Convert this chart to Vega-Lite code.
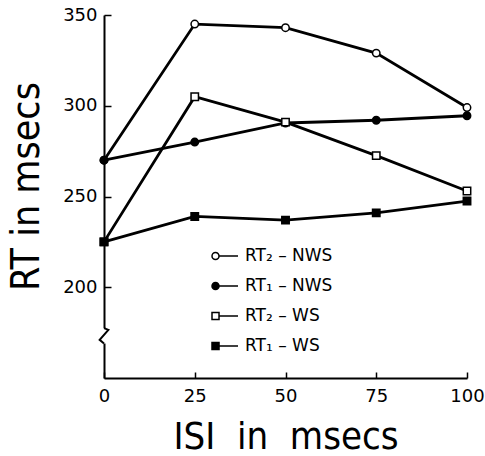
{
  "$schema": "https://vega.github.io/schema/vega-lite/v6.json",
  "width": 363,
  "height": 363,
  "autosize": {"type": "none"},
  "padding": {"left": 104, "top": 15, "right": 18, "bottom": 78},
  "background": "white",
  "config": {"view": {"stroke": null}, "font": "DejaVu Sans"},
  "data": {
    "values": [
      {"series": "RT₂ – NWS", "ISI": 0, "RT": 270},
      {"series": "RT₂ – NWS", "ISI": 25, "RT": 345},
      {"series": "RT₂ – NWS", "ISI": 50, "RT": 343},
      {"series": "RT₂ – NWS", "ISI": 75, "RT": 329},
      {"series": "RT₂ – NWS", "ISI": 100, "RT": 299},
      {"series": "RT₁ – NWS", "ISI": 0, "RT": 270},
      {"series": "RT₁ – NWS", "ISI": 25, "RT": 280},
      {"series": "RT₁ – NWS", "ISI": 50, "RT": 290.5},
      {"series": "RT₁ – NWS", "ISI": 75, "RT": 292},
      {"series": "RT₁ – NWS", "ISI": 100, "RT": 294.5},
      {"series": "RT₂ – WS", "ISI": 0, "RT": 225},
      {"series": "RT₂ – WS", "ISI": 25, "RT": 305},
      {"series": "RT₂ – WS", "ISI": 50, "RT": 291},
      {"series": "RT₂ – WS", "ISI": 75, "RT": 272.5},
      {"series": "RT₂ – WS", "ISI": 100, "RT": 253},
      {"series": "RT₁ – WS", "ISI": 0, "RT": 225},
      {"series": "RT₁ – WS", "ISI": 25, "RT": 239},
      {"series": "RT₁ – WS", "ISI": 50, "RT": 237},
      {"series": "RT₁ – WS", "ISI": 75, "RT": 241},
      {"series": "RT₁ – WS", "ISI": 100, "RT": 247.5}
    ]
  },
  "encoding": {
    "x": {
      "field": "ISI", "type": "quantitative",
      "scale": {"domain": [0, 100], "nice": false},
      "axis": {
        "values": [0, 25, 50, 75, 100], "grid": false,
        "domainColor": "black", "domainWidth": 2,
        "tickColor": "black", "tickWidth": 1.5, "tickSize": -6,
        "labelPadding": 15, "labelFontSize": 18, "labelColor": "black", "labelFont": "DejaVu Sans",
        "labelFlush": false,
        "title": "ISI\u00a0 in\u00a0 msecs", "titleFont": "DejaVu Sans Condensed", "titleFontSize": 38,
        "titleFontWeight": "normal", "titleColor": "black", "titlePadding": 13
      }
    },
    "y": {
      "field": "RT", "type": "quantitative",
      "scale": {"domain": [150, 350], "nice": false, "zero": false},
      "axis": {
        "values": [200, 250, 300, 350], "grid": false,
        "domainColor": "black", "domainWidth": 2,
        "tickColor": "black", "tickWidth": 1.5, "tickSize": -7,
        "labelPadding": 14, "labelFontSize": 18, "labelColor": "black", "labelFont": "DejaVu Sans",
        "labelFlush": false,
        "title": "RT in msecs", "titleFont": "DejaVu Sans Condensed", "titleFontSize": 39,
        "titleFontWeight": "normal", "titleColor": "black", "titlePadding": 16, "titleY": 171
      }
    }
  },
  "layer": [
    {
      "mark": {"type": "line", "color": "black", "strokeWidth": 2.8},
      "encoding": {"detail": {"field": "series"}}
    },
    {
      "mark": {"type": "point", "filled": true, "stroke": "black", "strokeWidth": 1.5, "size": 55, "opacity": 1},
      "encoding": {
        "shape": {
          "field": "series", "type": "nominal",
          "scale": {"domain": ["RT₂ – NWS", "RT₁ – NWS", "RT₂ – WS", "RT₁ – WS"], "range": ["circle", "circle", "square", "square"]},
          "legend": null
        },
        "fill": {
          "field": "series", "type": "nominal",
          "scale": {"domain": ["RT₂ – NWS", "RT₁ – NWS", "RT₂ – WS", "RT₁ – WS"], "range": ["white", "black", "white", "black"]},
          "legend": null
        }
      }
    },
    {
      "mark": {"type": "point", "filled": true, "size": 676, "opacity": 0},
      "encoding": {
        "shape": {
          "field": "series", "type": "nominal",
          "scale": {"domain": ["RT₂ – NWS", "RT₁ – NWS", "RT₂ – WS", "RT₁ – WS"], "range": [
            "M-1,0A0.27,0.27,0,1,1,-0.46,0A0.27,0.27,0,1,1,-1,0ZM-0.46,0L1,0",
            "M-1,0A0.27,0.27,0,1,1,-0.46,0A0.27,0.27,0,1,1,-1,0ZM-0.46,0L1,0",
            "M-1,-0.27L-0.46,-0.27L-0.46,0.27L-1,0.27ZM-0.46,0L1,0",
            "M-1,-0.27L-0.46,-0.27L-0.46,0.27L-1,0.27ZM-0.46,0L1,0"
          ]},
          "legend": {
            "orient": "none", "legendX": 107, "legendY": 227, "title": null,
            "symbolSize": 676, "symbolStrokeWidth": 1.5, "symbolOpacity": 1,
            "labelFont": "DejaVu Sans", "labelFontSize": 17, "labelColor": "black",
            "rowPadding": 8, "labelOffset": 6
          }
        },
        "fill": {
          "field": "series", "type": "nominal",
          "scale": {"domain": ["RT₂ – NWS", "RT₁ – NWS", "RT₂ – WS", "RT₁ – WS"], "range": ["white", "black", "white", "black"]},
          "legend": {
            "orient": "none", "legendX": 107, "legendY": 227, "title": null,
            "symbolSize": 676, "symbolStrokeWidth": 1.5, "symbolOpacity": 1,
            "labelFont": "DejaVu Sans", "labelFontSize": 17, "labelColor": "black",
            "rowPadding": 8, "labelOffset": 6
          }
        },
        "stroke": {
          "field": "series", "type": "nominal",
          "scale": {"domain": ["RT₂ – NWS", "RT₁ – NWS", "RT₂ – WS", "RT₁ – WS"], "range": ["black", "black", "black", "black"]},
          "legend": {
            "orient": "none", "legendX": 107, "legendY": 227, "title": null,
            "symbolSize": 676, "symbolStrokeWidth": 1.5, "symbolOpacity": 1,
            "labelFont": "DejaVu Sans", "labelFontSize": 17, "labelColor": "black",
            "rowPadding": 8, "labelOffset": 6
          }
        }
      }
    },
    {
      "data": {"values": [{"ISI": 0, "lo": 169, "hi": 177.5}]},
      "mark": {"type": "rule", "color": "white", "strokeWidth": 5},
      "encoding": {
        "x": {"field": "ISI", "type": "quantitative"},
        "y": {"field": "lo", "type": "quantitative"},
        "y2": {"field": "hi"}
      }
    },
    {
      "data": {"values": [
        {"ISI": 0, "RT": 177.5, "o": 0},
        {"ISI": 1.2, "RT": 176.5, "o": 1},
        {"ISI": -1.2, "RT": 171, "o": 2},
        {"ISI": 0, "RT": 169, "o": 3}
      ]},
      "mark": {"type": "line", "color": "black", "strokeWidth": 2},
      "encoding": {
        "x": {"field": "ISI", "type": "quantitative"},
        "y": {"field": "RT", "type": "quantitative"},
        "order": {"field": "o", "type": "quantitative"}
      }
    }
  ],
  "resolve": {"scale": {"shape": "independent", "fill": "independent", "stroke": "independent"}}
}
